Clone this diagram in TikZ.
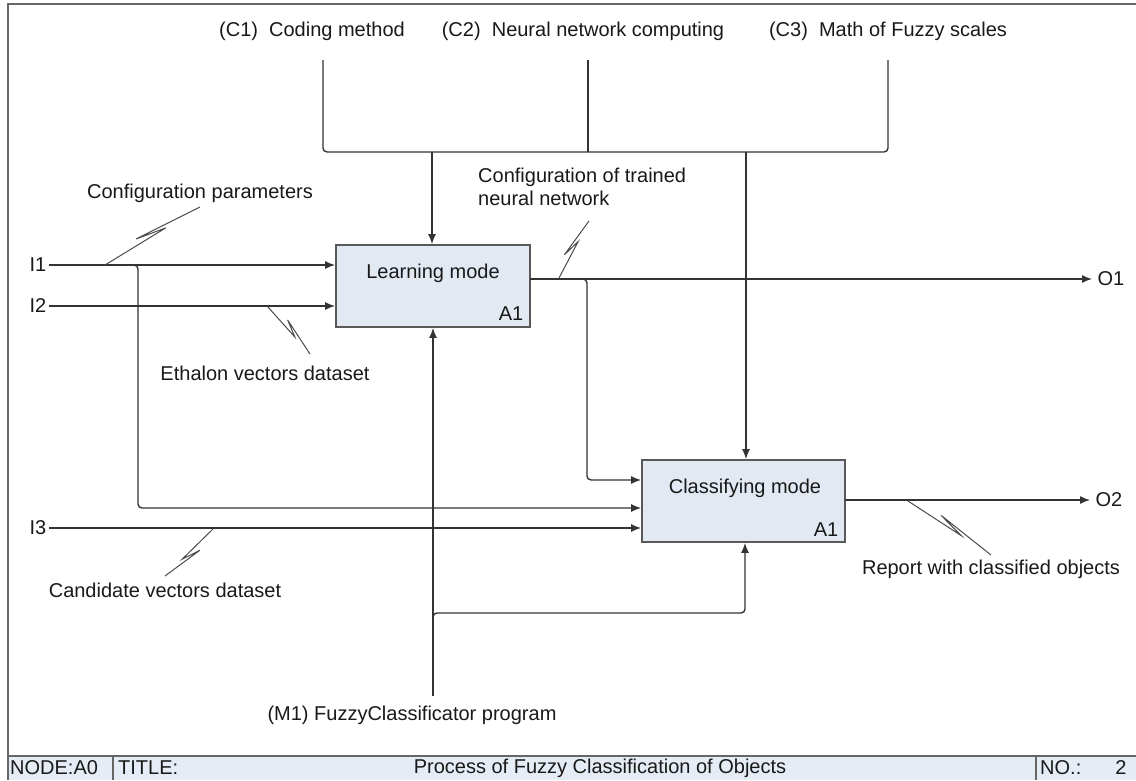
\documentclass[tikz,border=0pt]{standalone}
\usepackage{fontspec}
\setmainfont{Liberation Sans}
\usetikzlibrary{arrows.meta,calc}
\definecolor{boxfill}{HTML}{E2E9F3}
\definecolor{footfill}{HTML}{E6ECF5}
\definecolor{ln}{HTML}{333333}
\tikzset{
 lbl/.style={font=\fontsize{20}{24}\selectfont, text=black!90, inner sep=0pt},
 actbox/.style={draw=black!65, line width=1.8pt, fill=boxfill, minimum width=194pt, minimum height=82pt, inner sep=0pt},
 flow/.style={draw=ln, line width=1.4pt, rounded corners=4pt},
 arr/.style={flow, -{Latex[length=10pt,width=8pt]}},
 squig/.style={draw=black!70, line width=1pt},
 frame/.style={draw=black!60, line width=1.6pt},
}
\newcommand\zigline[2]{\draw[squig] (#1) -- ($(#1)!0.64!(#2)$) -- ($(#1)!0.36!(#2)!6pt!90:(#2)$) -- (#2);}
\begin{document}
\begin{tikzpicture}[x=1pt,y=-1pt]
\useasboundingbox (0,0) rectangle (1136,780);
\fill[white] (0,0) rectangle (1136,780);
% frame and footer
\fill[footfill] (8,756) rectangle (1136,780);
\draw[frame] (8,780) -- (8,4) -- (1140,4);
\draw[frame] (8,756) -- (1140,756);
\draw[frame] (113,756) -- (113,780);
\draw[frame] (1036,756) -- (1036,780);
\node[lbl, anchor=west] (fnode) at (10,768) {NODE:A0};
\node[lbl, anchor=west] (ftitle) at (118,768) {TITLE:};
\node[lbl] (fname) at (600,768) {Process of Fuzzy Classification of Objects};
\node[lbl, anchor=west] (fno) at (1040,768) {NO.:};
\node[lbl] (fnum) at (1121,768) {2};

% controls
\node[lbl] (c1) at (312,31) {(C1)\ \ Coding method};
\node[lbl] (c2) at (583,31) {(C2)\ \ Neural network computing};
\node[lbl] (c3) at (888,31) {(C3)\ \ Math of Fuzzy scales};
\coordinate (c1s) at (323,60);
\coordinate (c2s) at (588,60);
\coordinate (c3s) at (888,60);
\coordinate (bl) at (323,152);
\coordinate (c2b) at (588,152);
\coordinate (br) at (888,152);
\coordinate (d1) at (432,152);
\coordinate (d2) at (746,152);

% boxes
\node[actbox] (learn) at (433,286) {};
\node[actbox, minimum width=203pt] (cls) at (743.5,501) {};

\draw[flow] (c1s) -- (bl) -- (br) -- (c3s);
\draw[flow] (c2s) -- (c2b);
\draw[arr] (d1) -- (d1 |- learn.north);
\draw[arr] (d2) -- (d2 |- cls.north);

% inputs
\node[lbl] (i1) at (38,265) {I1};
\node[lbl] (i2) at (38,306) {I2};
\node[lbl] (i3) at (38,528) {I3};
\coordinate (i1s) at (49,265);
\coordinate (i2s) at (49,306);
\coordinate (i3s) at (49,528);
\draw[arr] (i1s) -- (i1s -| learn.west);
\draw[arr] (i2s) -- (i2s -| learn.west);
\draw[arr] (i3s) -- (i3s -| cls.west);
\coordinate (j1a) at (128,265);
\coordinate (j1) at (138,265);
\coordinate (j1b) at (138,508);
\draw[arr] (j1a) -- (j1) -- (j1b) -- (j1b -| cls.west);

% outputs
\coordinate (lo) at (530,279);
\coordinate (o1e) at (1092,279);
\node[lbl] (o1) at (1111,279) {O1};
\draw[arr] (lo) -- (o1e);
\coordinate (fb0) at (578,279);
\coordinate (fb1) at (587,279);
\coordinate (fb2) at (587,480);
\draw[arr] (fb0) -- (fb1) -- (fb2) -- (fb2 -| cls.west);
\coordinate (co) at (845,500);
\coordinate (o2e) at (1090,500);
\node[lbl] (o2) at (1109,500) {O2};
\draw[arr] (co) -- (o2e);

% mechanism
\node[lbl] (m1) at (412,715) {(M1) FuzzyClassificator program};
\coordinate (ms) at (433,696);
\draw[arr] (ms) -- (ms |- learn.south);
\coordinate (mb0) at (433,625);
\coordinate (mb1) at (433,613);
\coordinate (mb2) at (745,613);
\draw[arr] (mb0) -- (mb1) -- (mb2) -- (mb2 |- cls.south);

% box texts
\node[lbl] (learnT) at (433,273) {Learning mode};
\node[lbl] (learnA) at (511,314) {A1};
\node[lbl] (clsT) at (745,488) {Classifying mode};
\node[lbl] (clsA) at (826,530) {A1};

% arrow labels
\node[lbl] (lcp) at (200,193) {Configuration parameters};
\coordinate (z1a) at (105,265); \coordinate (z1b) at (200,207);
\zigline{z1a}{z1b}
\node[lbl] (lev) at (265,373) {Ethalon vectors dataset};
\coordinate (z2a) at (268,307); \coordinate (z2b) at (310,354);
\zigline{z2a}{z2b}
\node[lbl, align=left, anchor=north west, font=\fontsize{20}{23}\selectfont] (lct) at (478,168) {Configuration of trained\\neural network};
\coordinate (z3a) at (559,278); \coordinate (z3b) at (589,221);
\zigline{z3a}{z3b}
\node[lbl] (lcv) at (165,590) {Candidate vectors dataset};
\coordinate (z4a) at (213,529); \coordinate (z4b) at (165,576);
\zigline{z4a}{z4b}
\node[lbl] (lrp) at (991,569) {Report with classified objects};
\coordinate (z5a) at (908,501); \coordinate (z5b) at (991,555);
\zigline{z5a}{z5b}
\end{tikzpicture}
\end{document}
